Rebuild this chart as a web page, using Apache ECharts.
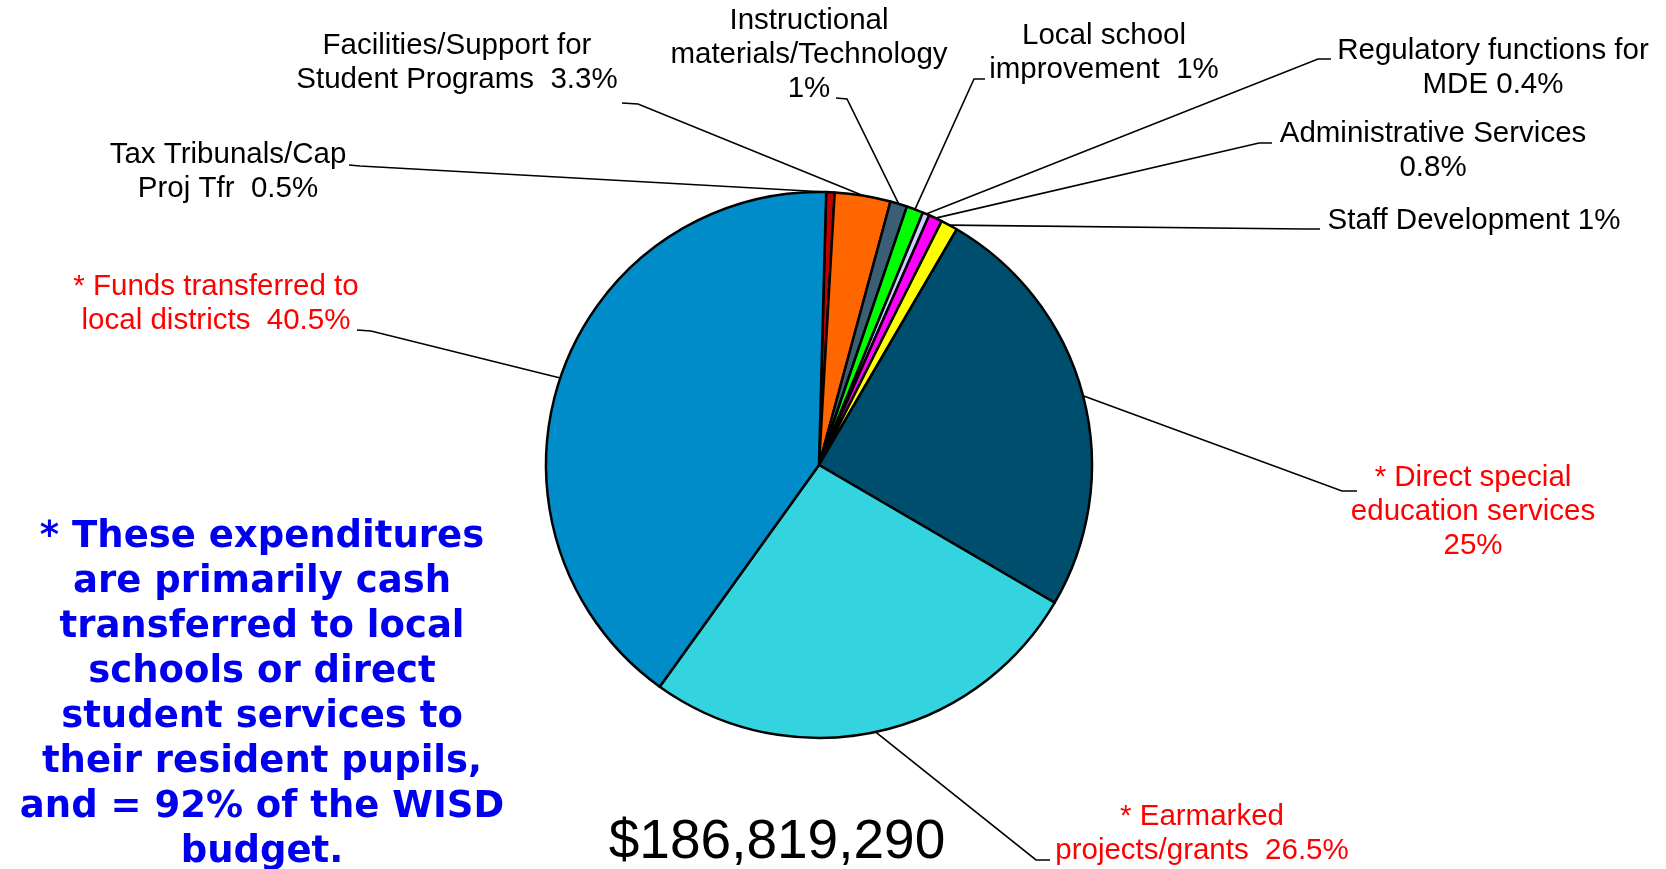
<!DOCTYPE html>
<html>
<head>
<meta charset="utf-8">
<script src="https://cdn.jsdelivr.net/npm/echarts@6/dist/echarts.min.js"></script>
<style>
html,body{margin:0;padding:0;background:#fff;}
#chart{width:1666px;height:869px;}
</style>
</head>
<body>
<div id="chart"></div>
<script>
// ---- data ----
const categories = [
  'Tax Tribunals/Cap Proj Tfr',
  'Facilities/Support for Student Programs',
  'Instructional materials/Technology',
  'Local school improvement',
  'Regulatory functions for MDE',
  'Administrative Services',
  'Staff Development',
  '* Direct special education services',
  '* Earmarked projects/grants',
  '* Funds transferred to local districts'
];
const values = [0.5, 3.3, 1, 1, 0.4, 0.8, 1, 25, 26.5, 40.5];
const labelTexts = [
  'Tax Tribunals/Cap\nProj Tfr  0.5%',
  'Facilities/Support for\nStudent Programs  3.3%',
  'Instructional\nmaterials/Technology\n1%',
  'Local school\nimprovement  1%',
  'Regulatory functions for\nMDE 0.4%',
  'Administrative Services\n0.8%',
  'Staff Development 1%',
  '* Direct special\neducation services\n25%',
  '* Earmarked\nprojects/grants  26.5%',
  '* Funds transferred to\nlocal districts  40.5%'
];
const highlighted = [false, false, false, false, false, false, false, true, true, true];
const totalText = '$186,819,290';
const noteText = '* These expenditures\nare primarily cash\ntransferred to local\nschools or direct\nstudent services to\ntheir resident pupils,\nand = 92% of the WISD\nbudget.';

// ---- styles / layout ----
const colors = ['#C00000', '#FF6600', '#3A5F75', '#00FF00', '#CCCCFF', '#FF00FF', '#FFFF00', '#004E6E', '#33D4E0', '#008CC8'];
// label centre, line end at label, elbow
const labelLayoutPos = [
  {x: 228, y: 172, end: [349, 165], elbow: [360, 166]},
  {x: 457, y: 63, end: [622, 103], elbow: [638, 104]},
  {x: 809, y: 55, end: [836, 98], elbow: [847, 99]},
  {x: 1104, y: 53, end: [985, 79], elbow: [974, 79]},
  {x: 1493, y: 68, end: [1331, 59], elbow: [1318, 59]},
  {x: 1433, y: 151, end: [1272, 143], elbow: [1259, 143]},
  {x: 1474, y: 221, end: [1320, 229], elbow: [1304, 229]},
  {x: 1473, y: 512, end: [1357, 491], elbow: [1342, 491]},
  {x: 1202, y: 834, end: [1050, 860], elbow: [1036, 860]},
  {x: 216, y: 304, end: [357, 330], elbow: [371, 331]}
];

const chart = echarts.init(document.getElementById('chart'));
const seriesData = categories.map((c, i) => ({
  name: c,
  value: values[i],
  itemStyle: {color: colors[i]},
  label: {
    formatter: labelTexts[i],
    color: highlighted[i] ? '#FF0000' : '#000000'
  }
}));

chart.setOption({
  backgroundColor: '#ffffff',
  animation: false,
  graphic: [
    {
      type: 'text', x: 262, y: 515,
      style: {
        text: noteText, fill: '#0000EE',
        font: 'bold 37px "DejaVu Sans"', textAlign: 'center', textVerticalAlign: 'top',
        lineHeight: 45
      }
    },
    {
      type: 'text', x: 777, y: 843,
      style: {
        text: totalText, fill: '#000000',
        font: '55px "Liberation Sans"', textAlign: 'center', textVerticalAlign: 'middle'
      }
    }
  ],
  series: [{
    type: 'pie',
    center: [819, 465],
    radius: 273,
    startAngle: 88.5,
    clockwise: true,
    avoidLabelOverlap: false,
    minAngle: 0,
    silent: true,
    emphasis: {disabled: true},
    itemStyle: {borderColor: '#000', borderWidth: 2.5},
    label: {
      show: true,
      position: 'outside',
      fontFamily: 'Liberation Sans',
      fontSize: 29.5,
      lineHeight: 34,
      align: 'center'
    },
    labelLine: {show: true, lineStyle: {color: '#000', width: 1.6}},
    labelLayout: function (params) {
      const p = labelLayoutPos[params.dataIndex];
      const start = params.labelLinePoints ? params.labelLinePoints[0] : p.elbow;
      return {
        x: p.x, y: p.y, align: 'center', verticalAlign: 'middle',
        labelLinePoints: [start, p.elbow, p.end]
      };
    },
    data: seriesData
  }]
});
</script>
</body>
</html>
